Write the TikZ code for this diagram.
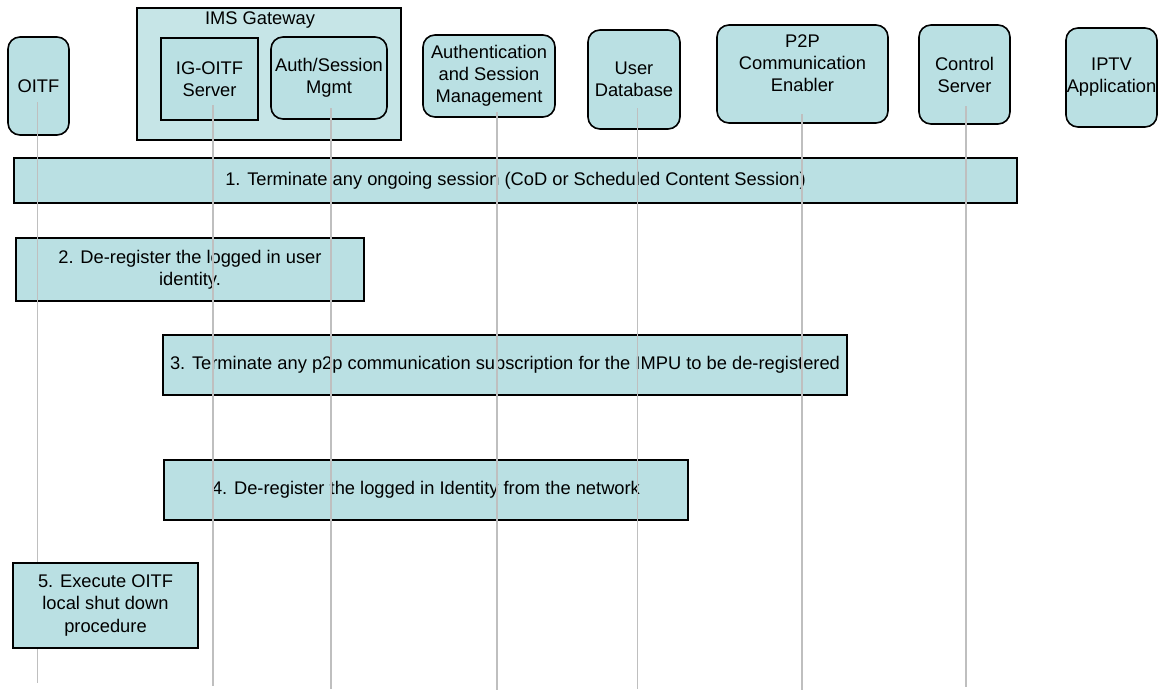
\documentclass[tikz,border=0pt]{standalone}
\usepackage{fontspec}
\setmainfont{Liberation Sans}
\usepackage{xcolor}
\usepackage{tikz}

\begin{document}
\begin{tikzpicture}[x  = {(1pt,0pt)},
                    y  = {(0pt,-1pt)},
                    font = {\fontsize{18.3}{22}\selectfont}]


  % FRAME
  \useasboundingbox (0,0) rectangle (1159,691);


  % COLORS and STYLES
  \definecolor{boxcolor_p}{rgb}{ 0.729,0.878,0.890 }
  \definecolor{groupcolor_p}{rgb}{ 0.776,0.898,0.906 }
  \definecolor{linecolor_p}{rgb}{ 0.75,0.75,0.75 }
  \tikzstyle{entity_p} = [draw=black, fill=boxcolor_p, line width=1.6pt, rounded corners=12pt, inner sep=0pt, align=center]
  \tikzstyle{server_p} = [draw=black, fill=boxcolor_p, line width=1.6pt, inner sep=0pt, align=center]
  \tikzstyle{group_p} = [draw=black, fill=groupcolor_p, line width=1.6pt, inner sep=0pt]
  \tikzstyle{step_p} = [draw=black, fill=boxcolor_p, line width=1.6pt, inner sep=0pt, align=center]
  \tikzstyle{lifeline_p} = [draw=linecolor_p, line width=1.6pt]


  % ENTITIES
  \node[group_p, minimum width=264, minimum height=132] (gw) at (269,74) {};
  \node[inner sep=0pt] (gw_title) at (260,20) {IMS Gateway};
  \node[server_p, minimum width=97, minimum height=82] (igoitf) at (209.5,79) {IG-OITF\\Server};
  \node[entity_p, minimum width=116, minimum height=82] (authmgmt) at (329,78) {Auth/Session\\Mgmt};
  \node[entity_p, minimum width=61, minimum height=98] (oitf) at (38.5,86) {OITF};
  \node[entity_p, minimum width=132, minimum height=82] (asm) at (489,76) {Authentication\\and Session\\Management};
  \node[entity_p, minimum width=92, minimum height=99] (udb) at (634,79.5) {User\\Database};
  \node[entity_p, minimum width=171, minimum height=98, text depth=22pt] (p2p) at (802.5,74) {P2P\\Communication\\Enabler};
  \node[entity_p, minimum width=91, minimum height=99] (ctrl) at (964.5,74.5) {Control\\Server};
  \node[entity_p, minimum width=91, minimum height=99] (iptv) at (1111.5,77.5) {IPTV\\Application};


  % STEPS
  \node[step_p, minimum width=1003, minimum height=45] (s1) at (515.5,180.5) {1. Terminate any ongoing session (CoD or Scheduled Content Session)};
  \node[step_p, minimum width=348, minimum height=63] (s2) at (190,269.5) {2. De-register the logged in user\\identity.};
  \node[step_p, minimum width=684, minimum height=60] (s3) at (505,365) {3. Terminate any p2p communication subscription for the IMPU to be de-registered};
  \node[step_p, minimum width=524, minimum height=60] (s4) at (426,490) {4. De-register the logged in Identity from the network};


  % LIFELINES
  \coordinate (oitf_top) at (37.5,102);
  \coordinate (oitf_bot) at (37.5,683);
  \coordinate (igoitf_top) at (213,105);
  \coordinate (igoitf_bot) at (213,686);
  \coordinate (authmgmt_top) at (331,108);
  \coordinate (authmgmt_bot) at (331,689);
  \coordinate (asm_top) at (497,112);
  \coordinate (asm_bot) at (497,690);
  \coordinate (udb_top) at (637.5,108);
  \coordinate (udb_bot) at (637.5,689);
  \coordinate (p2p_top) at (802,114);
  \coordinate (p2p_bot) at (802,690);
  \coordinate (ctrl_top) at (966,106);
  \coordinate (ctrl_bot) at (966,687);

  \foreach \ent in {oitf,igoitf,authmgmt,asm,udb,p2p,ctrl}
    \draw[lifeline_p] (\ent_top) -- (\ent_bot);


  % LAST STEP
  \node[step_p, minimum width=185, minimum height=85] (s5) at (105.5,605.5) {5. Execute OITF\\local shut down\\procedure};

\end{tikzpicture}
\end{document}
